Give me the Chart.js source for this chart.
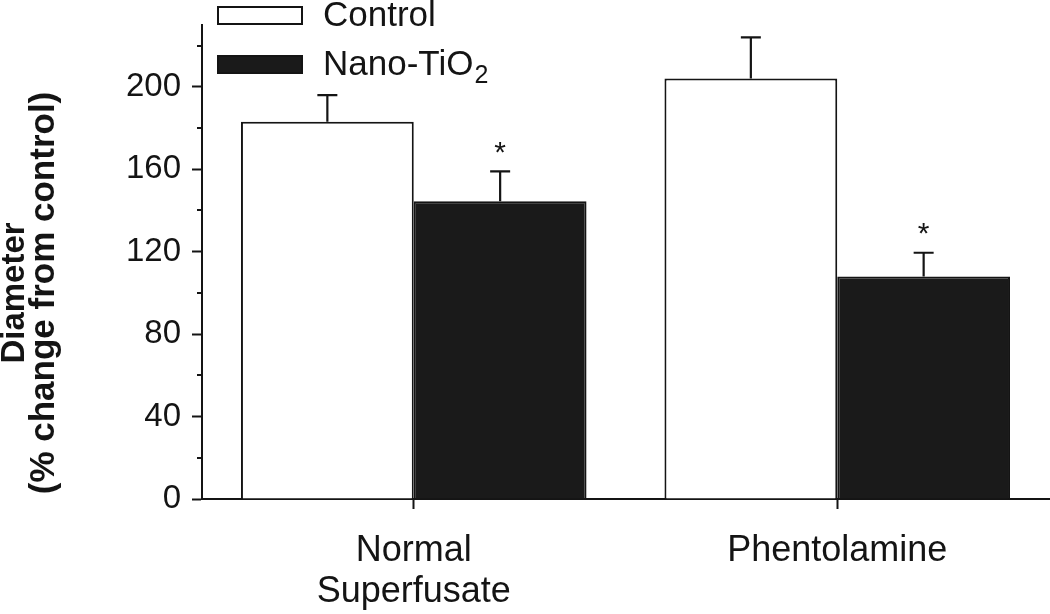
<!DOCTYPE html>
<html><head><meta charset="utf-8">
<script src="https://cdn.jsdelivr.net/npm/chart.js@4/dist/chart.umd.min.js"></script>
<style>html,body{margin:0;padding:0;background:#fff}#wrap{width:1050px;height:614px}</style>
</head><body><div id="wrap"><canvas id="c" width="1050" height="614"></canvas></div>
<script>
const categories = [['Normal', 'Superfusate'], 'Phentolamine'];
const seriesNames = ['Control', 'Nano-TiO₂'];
const controlValues = [183, 204];
const controlErrors = [13, 20];
const nanoValues = [144.5, 108];
const nanoErrors = [14.5, 11.5];
const nanoSignificant = [true, true];
const yTickLabels = [0, 40, 80, 120, 160, 200];
const yMinorTicks = [20, 60, 100, 140, 180, 220];
const yTitleLines = ['Diameter', '(% change from control)'];

const INK = '#141414';
const FONT = "'Liberation Sans', Arial, Helvetica, sans-serif";

const errorBars = {
  id: 'errorBars',
  afterDatasetsDraw(chart) {
    const ctx = chart.ctx, y = chart.scales.y;
    chart.data.datasets.forEach((ds, i) => {
      const meta = chart.getDatasetMeta(i);
      meta.data.forEach((el, j) => {
        const top = y.getPixelForValue(ds.data[j] + ds.errors[j]);
        ctx.save();
        ctx.strokeStyle = INK; ctx.lineWidth = 2.2;
        ctx.beginPath();
        ctx.moveTo(el.x, el.y); ctx.lineTo(el.x, top);
        ctx.moveTo(el.x - 10, top); ctx.lineTo(el.x + 10, top);
        ctx.stroke();
        if (ds.significant && ds.significant[j]) {
          ctx.fillStyle = INK;
          ctx.font = '30px ' + FONT;
          ctx.textAlign = 'center'; ctx.textBaseline = 'middle';
          ctx.fillText('*', el.x, top - 18);
        }
        ctx.restore();
      });
    });
  }
};

const decorations = {
  id: 'decorations',
  afterDraw(chart) {
    const ctx = chart.ctx, y = chart.scales.y, area = chart.chartArea;
    ctx.save();
    ctx.strokeStyle = INK; ctx.lineWidth = 2;
    yMinorTicks.forEach(v => {
      const py = Math.round(y.getPixelForValue(v));
      ctx.beginPath(); ctx.moveTo(area.left - 5, py); ctx.lineTo(area.left, py); ctx.stroke();
    });
    ctx.fillStyle = INK;
    ctx.textAlign = 'center'; ctx.textBaseline = 'middle';
    const cy = 293;
    const sizes = [33, 35];
    [15, 44].forEach((x, k) => {
      ctx.font = 'bold ' + sizes[k] + 'px ' + FONT;
      ctx.save(); ctx.translate(x, cy); ctx.rotate(-Math.PI / 2);
      ctx.fillText(yTitleLines[k], 0, 0); ctx.restore();
    });
    const rows = [15, 64];
    chart.data.datasets.forEach((ds, i) => {
      const yy = rows[i];
      ctx.fillStyle = ds.backgroundColor;
      ctx.fillRect(218, yy - 8, 84, 17);
      ctx.strokeStyle = INK; ctx.lineWidth = 2;
      ctx.strokeRect(218, yy - 8, 84, 17);
      ctx.fillStyle = INK;
      ctx.textAlign = 'left'; ctx.textBaseline = 'middle';
      ctx.font = '35px ' + FONT;
      const name = seriesNames[i];
      const m = name.match(/^(.*?)([₀-₉]+)$/);
      if (m) {
        ctx.fillText(m[1], 323, yy + 1);
        const w = ctx.measureText(m[1]).width;
        ctx.font = '25px ' + FONT;
        const sub = m[2].replace(/[₀-₉]/g, c => String.fromCharCode(c.charCodeAt(0) - 0x2080 + 48));
        ctx.fillText(sub, 323 + w + 1, yy + 12);
      } else {
        ctx.fillText(name, 323, yy + 1);
      }
    });
    ctx.restore();
  }
};

new Chart(document.getElementById('c'), {
  type: 'bar',
  data: {
    labels: categories,
    datasets: [
      { label: seriesNames[0], data: controlValues, errors: controlErrors, backgroundColor: '#ffffff', borderColor: INK, borderWidth: 2 },
      { label: seriesNames[1], data: nanoValues, errors: nanoErrors, significant: nanoSignificant, backgroundColor: '#1a1a1a', borderColor: INK, borderWidth: 2 }
    ]
  },
  options: {
    responsive: false,
    animation: false,
    devicePixelRatio: 1,
    categoryPercentage: 0.816,
    barPercentage: 1,
    layout: { padding: { top: 25, right: 1, left: 0, bottom: 0 } },
    plugins: { legend: { display: false }, tooltip: { enabled: false }, title: { display: false } },
    scales: {
      x: {
        offset: true,
        grid: { offset: false, drawOnChartArea: false, drawTicks: true, tickLength: 10, tickWidth: 2, tickColor: INK },
        border: { display: true, width: 2, color: INK },
        ticks: { color: INK, font: { size: 36, family: FONT, lineHeight: 1.15 }, padding: 21, maxRotation: 0, autoSkip: false },
        afterFit: s => { s.height = 115; s.paddingLeft = 0; s.paddingRight = 0; }
      },
      y: {
        min: 0, max: 230, bounds: 'data',
        ticks: { stepSize: 20, includeBounds: false, color: INK, font: { size: 33, family: FONT }, padding: 11,
          callback: v => yTickLabels.includes(v) ? String(v) : null },
        grid: { drawOnChartArea: false, drawTicks: true, tickLength: 10, tickWidth: 2, tickColor: INK },
        border: { display: true, width: 2, color: INK },
        afterFit: s => { s.width = 202; s.paddingTop = 0; s.paddingBottom = 0; }
      }
    }
  },
  plugins: [errorBars, decorations]
});
</script></body></html>
